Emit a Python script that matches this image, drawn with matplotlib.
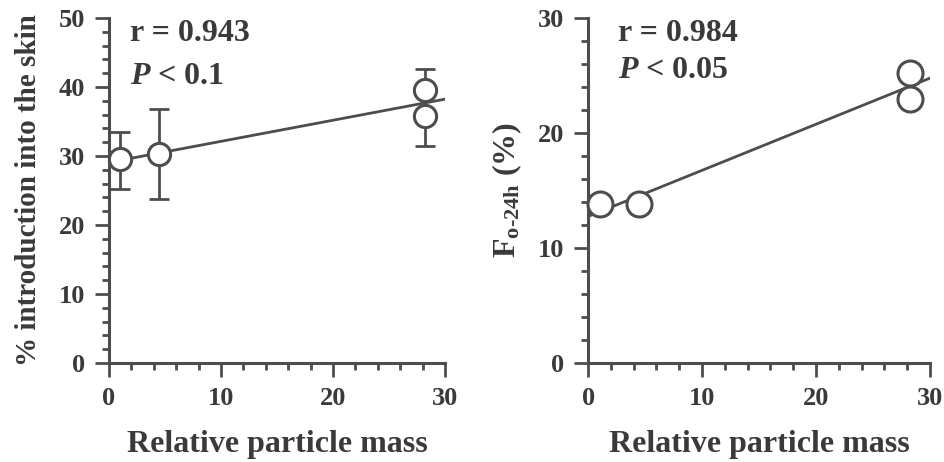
import numpy as np
import matplotlib
matplotlib.use("Agg")
import matplotlib.pyplot as plt
from matplotlib.ticker import MultipleLocator

# left panel: % introduction into the skin vs relative particle mass
mass = [1.0, 4.5, 28.2, 28.2]
skin = [29.5, 30.3, 39.6, 35.8]
skin_err_lo = [4.3, 6.6, 0.0, 4.3]
skin_err_hi = [4.0, 6.5, 3.0, 0.0]

# right panel: F o-24h (%) vs relative particle mass
flux = [13.8, 13.8, 25.2, 23.0]

plt.rcParams["font.family"] = ["Liberation Serif", "DejaVu Serif"]
plt.rcParams["font.weight"] = "bold"
plt.rcParams["mathtext.fontset"] = "custom"
plt.rcParams["mathtext.rm"] = "Liberation Serif:bold"
plt.rcParams["mathtext.it"] = "Liberation Serif:italic:bold"

ink = "#4d4d4d"
txt = "#3a3a3a"
fig = plt.figure(figsize=(9.44, 4.62), dpi=100)
ax1 = fig.add_axes([0.1155, 0.2143, 0.3559, 0.7467])
ax2 = fig.add_axes([0.6230, 0.2143, 0.3622, 0.7467])


def style(ax, ymax):
    for s in ["top", "right"]:
        ax.spines[s].set_visible(False)
    for s in ["left", "bottom"]:
        ax.spines[s].set_linewidth(2.2)
        ax.spines[s].set_color(ink)
    ax.set_xlim(0, 30)
    ax.set_ylim(0, ymax)
    ax.xaxis.set_major_locator(MultipleLocator(10))
    ax.xaxis.set_minor_locator(MultipleLocator(2))
    ax.yaxis.set_major_locator(MultipleLocator(10))
    ax.yaxis.set_minor_locator(MultipleLocator(2))
    ax.tick_params(which="major", length=10, width=2, color=ink, labelsize=19,
                   labelcolor=txt, pad=7)
    ax.tick_params(which="minor", length=5, width=2, color=ink)
    for lab in ax.get_xticklabels() + ax.get_yticklabels():
        lab.set_fontweight("bold")
    ax.set_xlabel("Relative particle mass", fontsize=23, fontweight="bold",
                  color=txt, labelpad=15)


style(ax1, 50)
style(ax2, 30)

# regression lines
xs = np.array([0, 30])
k1, b1 = np.polyfit(mass, skin, 1)
ax1.plot(xs, k1 * xs + b1, color=ink, lw=2, zorder=2)
k2, b2 = np.polyfit(mass, flux, 1)
ax2.plot(xs, k2 * xs + b2, color=ink, lw=2, zorder=2)

ax1.errorbar(mass, skin, yerr=[skin_err_lo, skin_err_hi], fmt="none",
             ecolor=ink, elinewidth=2, capsize=7, capthick=2, zorder=3)
ax1.plot(mass, skin, "o", ms=16, mfc="white", mec=ink, mew=2.2, zorder=4,
         clip_on=False)
ax2.plot(mass, flux, "o", ms=18, mfc="white", mec=ink, mew=2.2, zorder=4,
         clip_on=False)

ax1.set_ylabel("% introduction into the skin", fontsize=21, fontweight="bold",
               color=txt, labelpad=12)
ax2.set_ylabel(r"F$_{\mathrm{o\text{-}24h}}$ (%)", fontsize=23,
               fontweight="bold", color=txt, labelpad=10)

ax1.text(0.063, 0.955, "r = 0.943", transform=ax1.transAxes, fontsize=23,
         fontweight="bold", color=txt, va="center")
ax1.text(0.063, 0.83, r"$P$ < 0.1", transform=ax1.transAxes, fontsize=23,
         fontweight="bold", color=txt, va="center")
ax2.text(0.088, 0.955, "r = 0.984", transform=ax2.transAxes, fontsize=23,
         fontweight="bold", color=txt, va="center")
ax2.text(0.088, 0.848, r"$P$ < 0.05", transform=ax2.transAxes, fontsize=23,
         fontweight="bold", color=txt, va="center")

fig.savefig("out.png", dpi=100)
